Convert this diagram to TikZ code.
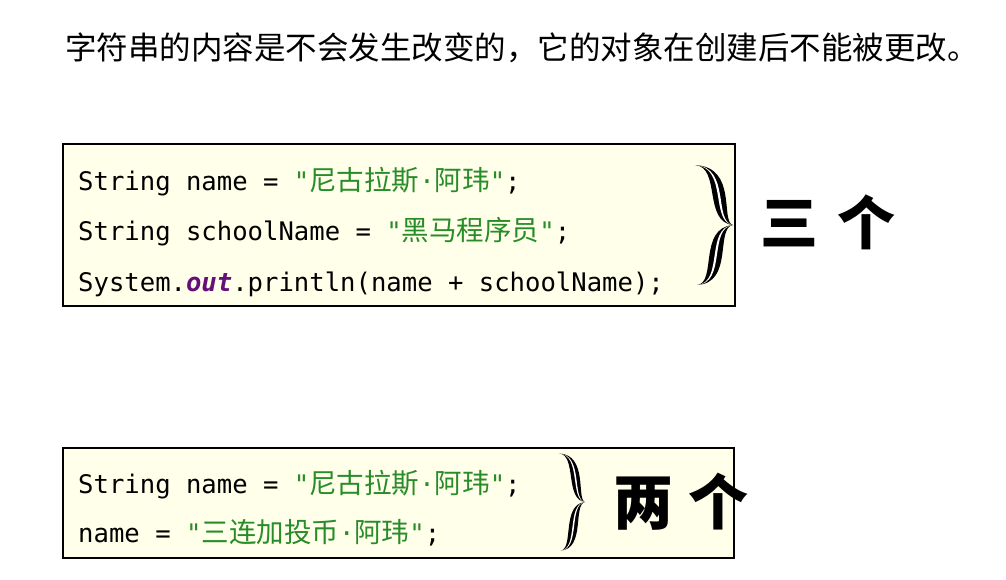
\documentclass[tikz,border=0pt]{standalone}
\usepackage{fontspec}
\setmonofont{DejaVu Sans Mono}
\newfontfamily\cjk{Noto Sans CJK SC}
\definecolor{codegreen}{RGB}{40,140,40}
\definecolor{kwpurple}{RGB}{102,14,122}
\definecolor{boxfill}{RGB}{255,255,234}
\newcommand\zh[1]{{\fontsize{27.5}{30}\selectfont\cjk #1}}
\newcommand\strlit[1]{\textcolor{codegreen}{#1}}
\tikzset{
  codebox/.style={draw=black, line width=2pt, fill=boxfill, inner sep=0pt},
  codeline/.style={anchor=base west, inner sep=0pt, font=\fontsize{25.6}{30}\selectfont\ttfamily},
  titletext/.style={anchor=base west, inner sep=0pt, font=\fontsize{31.5}{36}\selectfont\cjk},
  counttext/.style={anchor=base, inner sep=0pt, font=\fontsize{58}{60}\selectfont\cjk\bfseries},
  dbrace/.pic={
    % upper half
    \fill[black] (-38,-60) .. controls (-12,-58) and (-30,-3) .. (0,0)
       .. controls (-13,-3) and (5,-58) .. (-38,-60) -- cycle;
    \fill[white] (-38,-60) .. controls (-5,-58) and (-23,-3) .. (0,0)
       .. controls (-20,-3) and (-2,-58) .. (-38,-60) -- cycle;
    % lower half
    \fill[black] (0,0) .. controls (-35,3) and (-16,58) .. (-36,60)
       .. controls (1,58) and (-18,3) .. (0,0) -- cycle;
    \fill[white] (0,0) .. controls (-28,3) and (-9,58) .. (-36,60)
       .. controls (-6,58) and (-25,3) .. (0,0) -- cycle;
  }
}
\begin{document}
\begin{tikzpicture}[x=1pt,y=-1pt]
\fill[white] (0,0) rectangle (1006,579);
\useasboundingbox (0,0) rectangle (1006,579);

\node[titletext] (title) at (65,59) {字符串的内容是不会发生改变的，它的对象在创建后不能被更改。};

% box 1
\node[codebox, minimum width=672pt, minimum height=162pt] (box1) at (399,225) {};
\node[codeline] (l11) at (78,190) {String name = \strlit{"\zh{尼古拉斯}·\zh{阿玮}"};};
\node[codeline] (l12) at (78,240) {String schoolName = \strlit{"\zh{黑马程序员}"};};
\node[codeline] (l13) at (78,291) {System.\textcolor{kwpurple}{\bfseries\itshape out}.println(name + schoolName);};
\pic (br1) at (733,225) {dbrace};
\node[counttext] (c1) at (828,244) {三\hspace{19pt}个};

% box 2
\node[codebox, minimum width=671pt, minimum height=110pt] (box2) at (398.5,503) {};
\node[codeline] (l21) at (78,493) {String name = \strlit{"\zh{尼古拉斯}·\zh{阿玮}"};};
\node[codeline] (l22) at (78,542) {name = \strlit{"\zh{三连加投币}·\zh{阿玮}"};};
\pic[xscale=0.68, yscale=0.81] (br2) at (585,502) {dbrace};
\node[counttext, font=\fontsize{60}{62}\selectfont\cjk\bfseries] (c2) at (681,524) {两\hspace{16pt}个};
\end{tikzpicture}
\end{document}
